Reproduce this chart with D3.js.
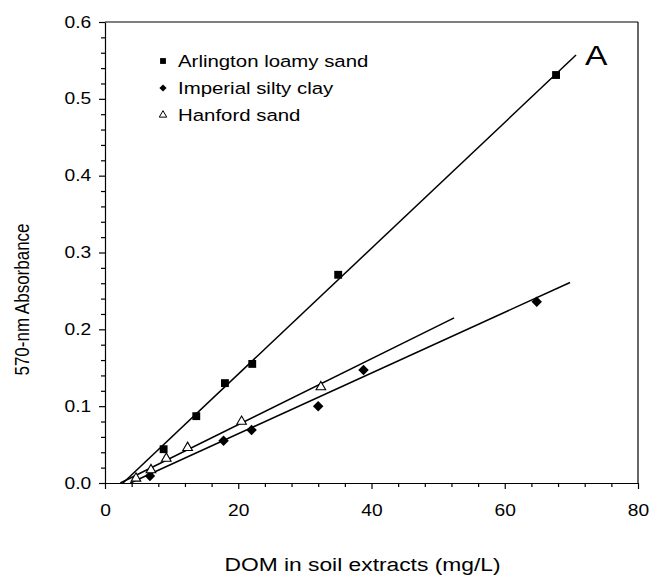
<!DOCTYPE html>
<html>
<head>
<meta charset="utf-8">
<script src="https://cdn.jsdelivr.net/npm/d3@7"></script>
<style>
  body { margin: 0; background: #fff; }
  text { font-family: "Liberation Sans", Arial, sans-serif; fill: #000; }
</style>
</head>
<body>
<div class="chart"></div>
<script>
// DOM calibration chart, panel A

var svgWidth = 649;
var svgHeight = 577;

var margin = { top: 22, right: 11, bottom: 94, left: 105 };

var width = svgWidth - margin.left - margin.right;
var height = svgHeight - margin.top - margin.bottom;

// the original figure is a bit stretched sideways, so is the text
var stretch = 1.2;

// data
var arlingtonX = [8.8, 13.7, 18.0, 22.1, 35.0, 67.7];
var arlingtonY = [0.044, 0.087, 0.130, 0.155, 0.271, 0.531];

var imperialX = [6.75, 17.8, 22.0, 32.0, 38.8, 64.8];
var imperialY = [0.009, 0.055, 0.069, 0.100, 0.147, 0.236];

var hanfordX = [4.65, 6.9, 9.2, 12.4, 20.5, 32.4];
var hanfordY = [0.006, 0.017, 0.032, 0.046, 0.080, 0.125];

// fitted lines: [x start, y start, x end, y end]
var arlingtonFit = [2.7, 0.0, 70.7, 0.557];
var imperialFit = [3.8, 0.0, 69.8, 0.261];
var hanfordFit = [2.3, 0.0, 52.4, 0.215];

var seriesNames = ["Arlington loamy sand", "Imperial silty clay", "Hanford sand"];
var xTicks = [0, 20, 40, 60, 80];
var yTicks = [0.0, 0.1, 0.2, 0.3, 0.4, 0.5, 0.6];

var svg = d3.select(".chart")
  .append("svg")
  .attr("width", svgWidth)
  .attr("height", svgHeight);

var chartGroup = svg.append("g")
  .attr("transform", `translate(${margin.left}, ${margin.top})`);

var xLinearScale = d3.scaleLinear().domain([0, 80]).range([0, width]);
var yLinearScale = d3.scaleLinear().domain([0, 0.6]).range([height, 0]);

// minor ticks
var xMinor = d3.range(0, 81, 4).filter(d => d % 20 !== 0);
var yMinor = d3.range(0, 31, 1).map(d => d / 50).filter((d, i) => i % 5 !== 0);

chartGroup.append("g")
  .attr("transform", `translate(0, ${height})`)
  .call(d3.axisBottom(xLinearScale).tickValues(xMinor).tickSize(4).tickFormat(""))
  .call(g => g.select(".domain").remove());

chartGroup.append("g")
  .call(d3.axisLeft(yLinearScale).tickValues(yMinor).tickSize(4).tickFormat(""))
  .call(g => g.select(".domain").remove());

// major axes
var bottomAxis = d3.axisBottom(xLinearScale).tickValues(xTicks).tickSize(6).tickSizeOuter(0).tickPadding(16);
var leftAxis = d3.axisLeft(yLinearScale).tickValues(yTicks).tickSize(6).tickSizeOuter(0).tickPadding(5.5)
  .tickFormat(d3.format(".1f"));

chartGroup.append("g")
  .attr("class", "x-axis")
  .attr("transform", `translate(0, ${height})`)
  .call(bottomAxis);

chartGroup.append("g")
  .attr("class", "y-axis")
  .call(leftAxis);

chartGroup.selectAll(".tick text")
  .style("font-size", "16px")
  .attr("transform", `scale(${stretch}, 1)`);
chartGroup.selectAll(".tick line, .domain").attr("stroke", "#000").attr("stroke-width", 1.2);

// top and right frame
chartGroup.append("line")
  .attr("x1", 0).attr("x2", width).attr("y1", 0).attr("y2", 0)
  .attr("stroke", "#000").attr("stroke-width", 1.2);
chartGroup.append("line")
  .attr("x1", width).attr("x2", width).attr("y1", 0).attr("y2", height)
  .attr("stroke", "#000").attr("stroke-width", 1.2);

// axis labels
chartGroup.append("text")
  .attr("transform", `translate(${width / 2 - 9}, ${height + 88}) scale(${stretch}, 1)`)
  .attr("text-anchor", "middle")
  .style("font-size", "19px")
  .text("DOM in soil extracts (mg/L)");

chartGroup.append("text")
  .attr("transform", `translate(${0 - margin.left + 29}, ${height / 2 + 47}) rotate(-90) scale(1, ${stretch})`)
  .attr("text-anchor", "middle")
  .style("font-size", "17px")
  .text("570-nm Absorbance");

chartGroup.append("text")
  .attr("transform", `translate(480, 43) scale(${stretch}, 1)`)
  .style("font-size", "28px")
  .text("A");

// fitted lines
[arlingtonFit, imperialFit, hanfordFit].forEach(function(f) {
  chartGroup.append("line")
    .attr("x1", xLinearScale(f[0])).attr("y1", yLinearScale(f[1]))
    .attr("x2", xLinearScale(f[2])).attr("y2", yLinearScale(f[3]))
    .attr("stroke", "#000")
    .attr("stroke-width", 1.5);
});

function pairs(xs, ys) {
  return xs.map((x, i) => ({ x: x, y: ys[i] }));
}

var squareSym = d3.symbol().type(d3.symbolSquare).size(62);
var diamondSym = d3.symbol().type(d3.symbolSquare).size(55);
var triangleSym = d3.symbol().type(d3.symbolTriangle).size(40);

chartGroup.selectAll(".arl")
  .data(pairs(arlingtonX, arlingtonY))
  .enter()
  .append("path")
  .attr("d", squareSym)
  .attr("transform", d => `translate(${xLinearScale(d.x)}, ${yLinearScale(d.y)})`)
  .attr("fill", "#000");

chartGroup.selectAll(".imp")
  .data(pairs(imperialX, imperialY))
  .enter()
  .append("path")
  .attr("d", diamondSym)
  .attr("transform", d => `translate(${xLinearScale(d.x)}, ${yLinearScale(d.y)}) rotate(45)`)
  .attr("fill", "#000");

chartGroup.selectAll(".han")
  .data(pairs(hanfordX, hanfordY))
  .enter()
  .append("path")
  .attr("d", triangleSym)
  .attr("transform", d => `translate(${xLinearScale(d.x)}, ${yLinearScale(d.y)})`)
  .attr("fill", "#fff")
  .attr("stroke", "#000")
  .attr("stroke-width", 1.1);

// legend
var legend = chartGroup.append("g")
  .attr("transform", "translate(58, 39)");

var legendSyms = [
  { sym: d3.symbol().type(d3.symbolSquare).size(34), fill: "#000", rot: 0 },
  { sym: d3.symbol().type(d3.symbolSquare).size(26), fill: "#000", rot: 45 },
  { sym: d3.symbol().type(d3.symbolTriangle).size(24), fill: "#fff", rot: 0 }
];

seriesNames.forEach(function(name, i) {
  var row = legend.append("g").attr("transform", `translate(0, ${i * 27})`);
  row.append("path")
    .attr("d", legendSyms[i].sym)
    .attr("transform", `rotate(${legendSyms[i].rot})`)
    .attr("fill", legendSyms[i].fill)
    .attr("stroke", i === 2 ? "#000" : "none")
    .attr("stroke-width", 1);
  row.append("text")
    .attr("transform", `translate(15, 6) scale(${stretch}, 1)`)
    .style("font-size", "17px")
    .text(name);
});
</script>
</body>
</html>
